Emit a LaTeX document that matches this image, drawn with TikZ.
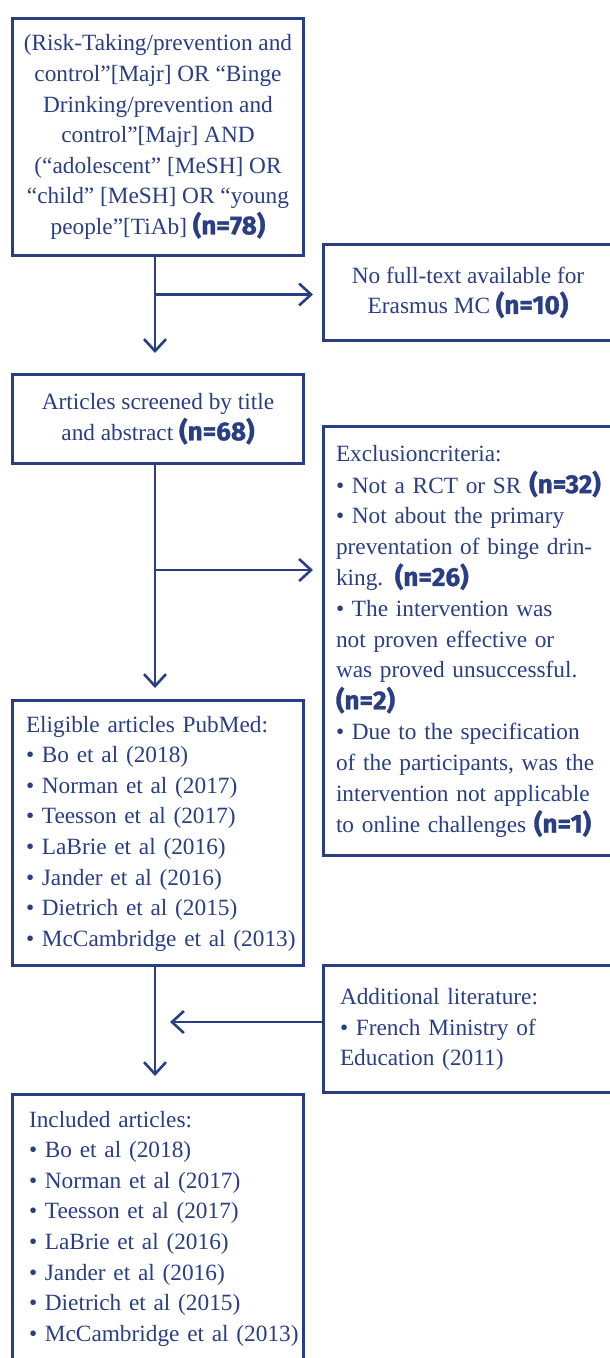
\documentclass[tikz,border=0pt]{standalone}
\usepackage{fontspec}
\setmainfont{Liberation Serif}
\newfontfamily\numfont{Fira Sans}[Scale=1.12,BoldFeatures={FakeBold=1.2}]
\usetikzlibrary{arrows.meta,calc}
\definecolor{navy}{RGB}{42,62,132}
% bold sans counts, e.g. (n=78)
\newcommand{\cnt}[1]{{\numfont\bfseries #1}}
% left-aligned stack of lines that never breaks
\newcommand{\rows}[1]{\begin{tabular}{@{}l@{}}#1\end{tabular}}

\begin{document}
\begin{tikzpicture}[x=1pt,y=-1pt,
  box/.style={draw=navy, line width=2.6pt, text=navy, anchor=north west,
    font=\fontsize{23.3}{30.6}\selectfont, inner sep=0pt},
  arr/.style={draw=navy, line width=2.6pt,
    -{Straight Barb[length=12pt,width=22pt,line width=2.6pt]}}]
\useasboundingbox (0,0) rectangle (610,1358);
\clip (0,0) rectangle (610,1358);
\fill[white] (0,0) rectangle (610,1358);

% search query
\node[box, minimum width=291.4pt, minimum height=237.4pt, align=center] (query) at (11,17)
  {(Risk-Taking/prevention and\\
   control''[Majr] OR ``Binge\\
   Drinking/prevention and\\
   control''[Majr] AND\\
   (``adolescent'' [MeSH] OR\\
   ``child'' [MeSH] OR ``young\\
   people''[TiAb] \cnt{(n=78)}};

% no full text
\node[box, minimum width=289.4pt, minimum height=96.4pt, align=center] (nofull) at (322,243)
  {No full-text available for\\ Erasmus MC \cnt{(n=10)}};

% screened
\node[box, minimum width=291.4pt, minimum height=89.4pt, align=center] (screen) at (11,373)
  {Articles screened by title\\ and abstract \cnt{(n=68)}};

% exclusion criteria
\node[box, minimum width=335.4pt, minimum height=429.4pt, text width=310pt] (excl) at (322,425)
  {\rows{Exclusioncriteria:\\
   • Not a RCT or SR \cnt{(n=32)}\\
   • Not about the primary\\
   preventation of binge drin-\\
   king. \cnt{(n=26)}\\
   • The intervention was\\
   not proven effective or\\
   was proved unsuccessful.\\
   \cnt{(n=2)}\\
   • Due to the specification\\
   of the participants, was the\\
   intervention not applicable\\
   to online challenges \cnt{(n=1)}}};

% eligible
\node[box, minimum width=291.4pt, minimum height=265.4pt, text width=264pt] (elig) at (11,699)
  {\rows{Eligible articles PubMed:\\
   • Bo et al (2018)\\
   • Norman et al (2017)\\
   • Teesson et al (2017)\\
   • LaBrie et al (2016)\\
   • Jander et al (2016)\\
   • Dietrich et al (2015)\\
   • McCambridge et al (2013)}};

% additional literature
\node[box, minimum width=335.4pt, minimum height=127.4pt, text width=302pt] (addl) at (322,964)
  {\rows{Additional literature:\\
   • French Ministry of\\
   Education (2011)}};

% included
\node[box, minimum width=291.4pt, minimum height=267.4pt, text width=258pt] (incl) at (11,1093)
  {\rows{Included articles:\\
   • Bo et al (2018)\\
   • Norman et al (2017)\\
   • Teesson et al (2017)\\
   • LaBrie et al (2016)\\
   • Jander et al (2016)\\
   • Dietrich et al (2015)\\
   • McCambridge et al (2013)}};

% main flow
\draw[arr] ([xshift=-3pt]query.south) -- ([xshift=-3pt,yshift=20pt]screen.north);
\draw[arr] ([xshift=-3pt]screen.south) -- ([xshift=-3pt,yshift=11pt]elig.north);
\draw[arr] ([xshift=-3pt]elig.south) -- ([xshift=-3pt,yshift=17pt]incl.north);

% side branches
\draw[arr] ($(query.south |- nofull.west)+(-3,2)$) -- ($(nofull.west)+(-9,2)$);
\coordinate (split) at ($(screen.south)+(-3,105)$);
\draw[arr] (split) -- ($(split -| excl.west)+(-9,0)$);
\coordinate (addin) at ($(addl.west)+(0,-7)$);
\draw[arr] (addin) -- ($(addin -| elig.south)+(12,0)$);
\end{tikzpicture}
\end{document}
